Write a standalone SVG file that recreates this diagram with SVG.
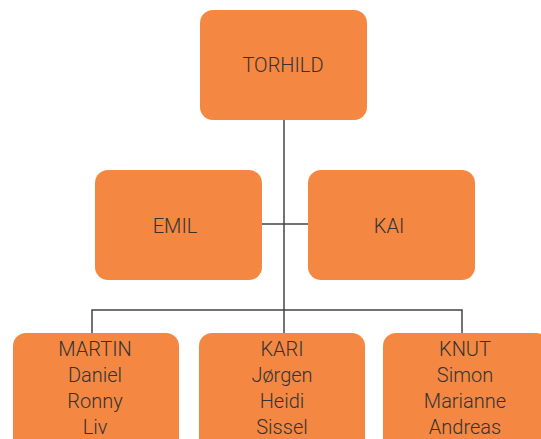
<svg xmlns="http://www.w3.org/2000/svg" width="541" height="439" viewBox="0 0 541 439">
<style>
.box{fill:#F48742;}
.t{font-family:Roboto,"Liberation Sans",sans-serif;font-size:20px;font-weight:300;fill:#333;text-anchor:middle;}
.c{stroke:#444;stroke-width:1.5;fill:none;}
</style>
<rect width="541" height="439" fill="#fff"/>
<g id="connectors">
<path class="c" d="M284 120 V333"/>
<path class="c" d="M262 224 H308"/>
<path class="c" d="M92 333 V310 H462 V333"/>
</g>
<g id="torhild"><rect class="box" x="200" y="10" width="167" height="110" rx="13"/><text class="t" x="283" y="72">TORHILD</text></g>
<g id="emil"><rect class="box" x="95" y="170" width="167" height="110" rx="13"/><text class="t" x="175" y="233">EMIL</text></g>
<g id="kai"><rect class="box" x="308" y="170" width="167" height="110" rx="13"/><text class="t" x="389" y="233">KAI</text></g>
<g id="martin"><rect class="box" x="13" y="333" width="166" height="120" rx="13"/><text class="t" x="95" y="356">MARTIN<tspan x="95" y="382">Daniel</tspan><tspan x="95" y="408">Ronny</tspan><tspan x="95" y="434">Liv</tspan></text></g>
<g id="kari"><rect class="box" x="199" y="333" width="166" height="120" rx="13"/><text class="t" x="282" y="356">KARI<tspan x="282" y="382">Jørgen</tspan><tspan x="282" y="408">Heidi</tspan><tspan x="282" y="434">Sissel</tspan></text></g>
<g id="knut"><rect class="box" x="383" y="333" width="166" height="120" rx="13"/><text class="t" x="465" y="356">KNUT<tspan x="465" y="382">Simon</tspan><tspan x="465" y="408">Marianne</tspan><tspan x="465" y="434">Andreas</tspan></text></g>
</svg>
